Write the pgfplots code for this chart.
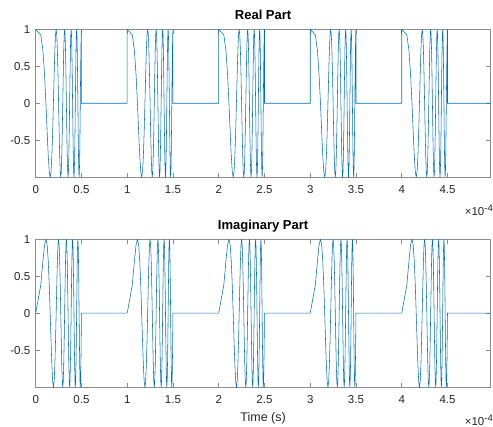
\documentclass[border=0pt]{standalone}
\usepackage{pgfplots}
\pgfplotsset{compat=1.18}
\usepackage{pgfplotstable}
\usepackage{fontspec}
\setmainfont{Liberation Sans}
\definecolor{mlblue}{HTML}{0072BD}
\definecolor{axgray}{HTML}{8C8C8C}
\definecolor{txtgray}{HTML}{262626}

% one period of the pulsed chirp, time in units of 1e-4 s
\pgfplotstableread{
t re im
0 1 0
0.05590 0.9239 0.3827
0.07906 0.7071 0.7071
0.09682 0.3827 0.9239
0.11180 0 1
0.12500 -0.3827 0.9239
0.13693 -0.7071 0.7071
0.14790 -0.9239 0.3827
0.15811 -1 0
0.16771 -0.9239 -0.3827
0.17678 -0.7071 -0.7071
0.18541 -0.3827 -0.9239
0.19365 0 -1
0.20156 0.3827 -0.9239
0.20917 0.7071 -0.7071
0.21651 0.9239 -0.3827
0.22361 1 0
0.23049 0.9239 0.3827
0.23717 0.7071 0.7071
0.24367 0.3827 0.9239
0.25000 0 1
0.25617 -0.3827 0.9239
0.26220 -0.7071 0.7071
0.26810 -0.9239 0.3827
0.27386 -1 0
0.27951 -0.9239 -0.3827
0.28504 -0.7071 -0.7071
0.29047 -0.3827 -0.9239
0.29580 0 -1
0.30104 0.3827 -0.9239
0.30619 0.7071 -0.7071
0.31125 0.9239 -0.3827
0.31623 1 0
0.32113 0.9239 0.3827
0.32596 0.7071 0.7071
0.33072 0.3827 0.9239
0.33541 0 1
0.34004 -0.3827 0.9239
0.34460 -0.7071 0.7071
0.34911 -0.9239 0.3827
0.35355 -1 0
0.35794 -0.9239 -0.3827
0.36228 -0.7071 -0.7071
0.36657 -0.3827 -0.9239
0.37081 0 -1
0.37500 0.3827 -0.9239
0.37914 0.7071 -0.7071
0.38324 0.9239 -0.3827
0.38730 1 0
0.39131 0.9239 0.3827
0.39528 0.7071 0.7071
0.39922 0.3827 0.9239
0.40311 0 1
0.40697 -0.3827 0.9239
0.41079 -0.7071 0.7071
0.41458 -0.9239 0.3827
0.41833 -1 0
0.42205 -0.9239 -0.3827
0.42573 -0.7071 -0.7071
0.42939 -0.3827 -0.9239
0.43301 0 -1
0.43661 0.3827 -0.9239
0.44017 0.7071 -0.7071
0.44371 0.9239 -0.3827
0.44721 1 0
0.45069 0.9239 0.3827
0.45415 0.7071 0.7071
0.45757 0.3827 0.9239
0.46098 0 1
0.46435 -0.3827 0.9239
0.46771 -0.7071 0.7071
0.47104 -0.9239 0.3827
0.47434 -1 0
0.47762 -0.9239 -0.3827
0.48088 -0.7071 -0.7071
0.48412 -0.3827 -0.9239
0.48734 0 -1
0.49053 0.3827 -0.9239
0.49371 0.7071 -0.7071
0.49687 0.9239 -0.3827
0.50000 1 0
0.50000 0 0
1.00000 0 0
1.00000 1 0
}\pulse

\newcommand{\expo}{{\fontsize{11.5}{13}\selectfont ×10\raisebox{0.55ex}{\fontsize{9.5}{10}\selectfont -4}}}

\pgfplotsset{chirp/.style={
  scale only axis, width=454.8pt, height=147.9pt,
  xmin=0, xmax=4.97, ymin=-1, ymax=1,
  clip mode=individual,
  xtick={0,0.5,1,1.5,2,2.5,3,3.5,4,4.5},
  xticklabels={0,0.5,1,1.5,2,2.5,3,3.5,4,4.5},
  ytick={-0.5,0,0.5,1}, yticklabels={-0.5,0,0.5,1},
  tick align=inside, major tick length=4.5pt,
  axis line style={draw=axgray, line width=0.6pt},
  every tick/.style={draw=axgray, line width=0.6pt},
  tick label style={font=\fontsize{11.5}{13}\selectfont, text=txtgray},
  xticklabel style={yshift=-5pt},
  yticklabel style={xshift=-2pt},
  title style={font=\bfseries\fontsize{13}{15}\selectfont, text=black,
               at={(0.5,1)}, anchor=base, yshift=4pt},
}}

\begin{document}
\begin{tikzpicture}
\path[use as bounding box] (-35.7pt,29.3pt) rectangle (457.3pt,-397.7pt);

\begin{axis}[chirp, at={(0pt,0pt)}, anchor=north west, title={Real Part}]
\pgfplotsinvokeforeach{0,1,2,3,4}{
  \addplot[mlblue, line width=0.55pt] table[x expr=\thisrow{t}+#1, y=re] {\pulse};
}
\node[anchor=base east, text=txtgray, inner sep=0pt]
  at (rel axis cs:1,0) [xshift=2.5pt, yshift=-38pt] {\expo};
\end{axis}

\begin{axis}[chirp, at={(0pt,-209.9pt)}, anchor=north west, title={Imaginary Part}]
\pgfplotsinvokeforeach{0,1,2,3,4}{
  \addplot[mlblue, line width=0.55pt] table[x expr=\thisrow{t}+#1, y=im] {\pulse};
}
\node[anchor=base east, text=txtgray, inner sep=0pt]
  at (rel axis cs:1,0) [xshift=2.5pt, yshift=-38pt] {\expo};
\node[anchor=base, font=\fontsize{12.5}{14}\selectfont, text=txtgray]
  at (rel axis cs:0.5,0) [yshift=-34.4pt] {Time (s)};
\end{axis}
\end{tikzpicture}
\end{document}
